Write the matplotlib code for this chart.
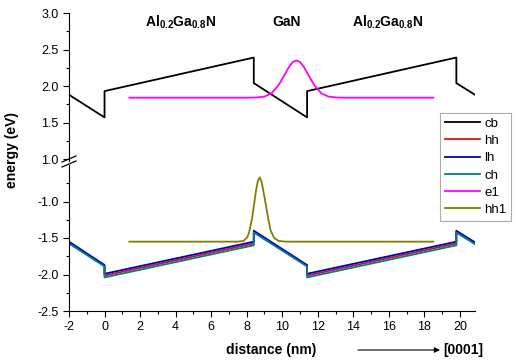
import numpy as np
import matplotlib.pyplot as plt
from matplotlib.lines import Line2D

plt.rcParams['font.family'] = ['Liberation Sans', 'DejaVu Sans']
plt.rcParams['axes.unicode_minus'] = False
plt.rcParams['mathtext.fontset'] = 'custom'
plt.rcParams['mathtext.bf'] = 'Liberation Sans:bold'
plt.rcParams['mathtext.rm'] = 'Liberation Sans'

# band edges (eV) at the layer boundaries
x_band = [-2, 0, 0, 8.4, 8.4, 11.4, 11.4, 19.8, 19.8, 20.85]
cb = [1.88, 1.57, 1.93, 2.39, 2.04, 1.57, 1.93, 2.39, 2.04, 1.88]
lh = [-1.55, -1.87, -1.99, -1.55, -1.40, -1.87, -1.99, -1.55, -1.40, -1.56]
hh = [-1.565, -1.88, -2.015, -1.575, -1.415, -1.88, -2.015, -1.575, -1.415, -1.575]
ch = [-1.575, -1.89, -2.04, -1.60, -1.425, -1.89, -2.04, -1.60, -1.425, -1.585]

# electron ground state
x_e1 = [1.4, 8.0, 8.5, 9.0, 9.4, 9.8, 10.1, 10.4, 10.6, 10.8, 11.0, 11.2,
        11.5, 11.8, 12.2, 12.6, 13.1, 13.6, 18.5]
e1 = [1.84, 1.84, 1.842, 1.855, 1.90, 2.013, 2.14, 2.269, 2.329, 2.35, 2.329,
      2.269, 2.14, 2.013, 1.90, 1.855, 1.842, 1.84, 1.84]

# heavy-hole ground state
x_hh1 = [1.4, 7.5, 7.83, 8.03, 8.13, 8.31, 8.38, 8.45, 8.53, 8.63, 8.73, 8.83,
         8.93, 9.03, 9.12, 9.2, 9.35, 9.55, 9.8, 10.2, 18.5]
hh1 = [-1.55, -1.55, -1.54, -1.492, -1.431, -1.22, -1.105, -0.981, -0.845,
       -0.718, -0.67, -0.718, -0.845, -0.981, -1.105, -1.22, -1.40, -1.50,
       -1.54, -1.55, -1.55]

fig = plt.figure(figsize=(5.16, 3.62), dpi=100)
W, H = 516, 362
left, right = 69 / W, 475 / W
ax_top = fig.add_axes([left, 1 - 161 / H, right - left, (161 - 13) / H])
ax_bot = fig.add_axes([left, 1 - 311 / H, right - left, (311 - 165) / H])

lw = 1.3
h_cb, = ax_top.plot(x_band, cb, color='black', lw=lw, label='cb')
h_hh, = ax_bot.plot(x_band, hh, color='#e01010', lw=lw, label='hh')
h_lh, = ax_bot.plot(x_band, lh, color='#0000cc', lw=lw, label='lh')
h_ch, = ax_bot.plot(x_band, ch, color='#008080', lw=lw, label='ch')
h_e1, = ax_top.plot(x_e1, e1, color='#ff00ff', lw=lw, label='e1')
h_hh1, = ax_bot.plot(x_hh1, hh1, color='#808000', lw=lw, label='hh1')

for ax in (ax_top, ax_bot):
    ax.set_xlim(-2, 20.85)
    ax.spines['top'].set_visible(False)
    ax.spines['right'].set_visible(False)
    ax.tick_params(which='major', direction='out', length=4, width=0.8, labelsize=9)
    ax.tick_params(which='minor', direction='out', length=2, width=0.8)

ax_top.set_ylim(0.973, 3.0)
ax_top.set_yticks([1.0, 1.5, 2.0, 2.5, 3.0])
ax_top.set_yticks([1.25, 1.75, 2.25, 2.75], minor=True)
ax_top.spines['bottom'].set_visible(False)
ax_top.set_xticks([])
ax_top.patch.set_alpha(0)

ax_bot.set_ylim(-2.5, -0.5)
ax_bot.set_yticks([-2.5, -2.0, -1.5, -1.0])
ax_bot.set_yticks([-2.25, -1.75, -1.25, -0.75], minor=True)
ax_bot.set_xticks(np.arange(-2, 21, 2))
ax_bot.set_xticks(np.arange(-1, 21, 2), minor=True)
ax_bot.patch.set_alpha(0)

# axis break marks
for yb in (162, 167):
    fig.add_artist(Line2D([62 / W, 76 / W], [1 - yb / H, 1 - (yb - 6) / H],
                          color='black', lw=0.9))

fig.text(12 / W, 1 - 150 / H, 'energy (eV)', rotation=90, fontsize=10,
         fontweight='bold', ha='center', va='center')
fig.text(271 / W, 1 - 350 / H, 'distance (nm)', fontsize=10,
         fontweight='bold', ha='center', va='center')
fig.add_artist(plt.Annotation('', xy=(440 / W, 1 - 350 / H), xytext=(358 / W, 1 - 350 / H),
                              xycoords='figure fraction', textcoords='figure fraction',
                              arrowprops=dict(arrowstyle='-|>', color='black', lw=0.8,
                                              mutation_scale=8, shrinkA=0, shrinkB=0)))
fig.text(443 / W, 1 - 350 / H, '[0001]', fontsize=10, fontweight='bold',
         ha='left', va='center')

for xc, s in ((181, r'$\mathbf{Al_{0.2}Ga_{0.8}N}$'), (287, 'GaN'),
              (388, r'$\mathbf{Al_{0.2}Ga_{0.8}N}$')):
    fig.text(xc / W, 1 - 22 / H, s, fontsize=10, fontweight='bold',
             ha='center', va='center')

leg = fig.legend([h_cb, h_hh, h_lh, h_ch, h_e1, h_hh1],
                 ['cb', 'hh', 'lh', 'ch', 'e1', 'hh1'],
                 loc='upper left', bbox_to_anchor=(440 / W, 1 - 113 / H),
                 fontsize=9.5, frameon=True, fancybox=False, handlelength=2.7,
                 handletextpad=0.3, labelspacing=0.38, borderpad=0.35,
                 borderaxespad=0)
leg.get_frame().set_edgecolor('#999999')
leg.get_frame().set_linewidth(0.8)

plt.savefig('out.png', dpi=100)
